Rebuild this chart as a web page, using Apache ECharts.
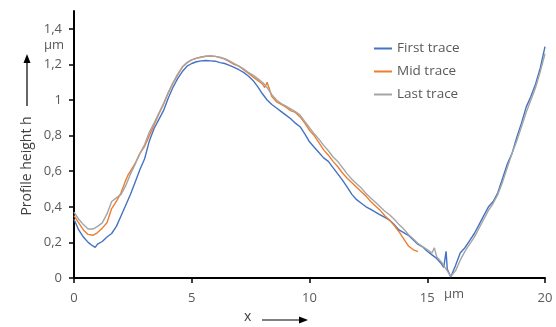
<!DOCTYPE html>
<html>
<head>
<meta charset="utf-8">
<script src="https://cdn.jsdelivr.net/npm/echarts@6/dist/echarts.min.js"></script>
<style>
  html, body { margin: 0; padding: 0; background: #fff; }
  #chart { width: 556px; height: 327px; }
</style>
</head>
<body>
<div id="chart"></div>
<script>
// profile traces, [x in um, h in um]
const firstTrace = [
  [0, 0.33], [0.2, 0.27], [0.4, 0.23], [0.6, 0.2], [0.8, 0.18], [0.9, 0.172], [1.0, 0.19], [1.2, 0.205],
  [1.4, 0.23], [1.6, 0.25], [1.8, 0.29], [2.0, 0.35], [2.2, 0.41], [2.4, 0.47], [2.6, 0.54], [2.8, 0.61],
  [3.0, 0.67], [3.2, 0.77], [3.4, 0.84], [3.6, 0.89], [3.8, 0.94], [4.0, 1.01], [4.2, 1.07], [4.4, 1.12],
  [4.6, 1.16], [4.8, 1.19], [5.0, 1.205], [5.2, 1.215], [5.4, 1.22], [5.6, 1.222], [5.8, 1.22], [6.0, 1.218],
  [6.2, 1.21], [6.4, 1.205], [6.6, 1.195], [6.8, 1.183], [7.0, 1.17], [7.2, 1.155], [7.4, 1.135], [7.6, 1.11],
  [7.8, 1.075], [8.0, 1.035], [8.2, 1.0], [8.4, 0.975], [8.6, 0.955], [8.8, 0.935], [9.0, 0.915], [9.2, 0.895],
  [9.4, 0.87], [9.6, 0.85], [9.8, 0.81], [10.0, 0.765], [10.2, 0.735], [10.4, 0.705], [10.6, 0.675], [10.8, 0.655],
  [11.0, 0.62], [11.2, 0.585], [11.4, 0.55], [11.6, 0.51], [11.8, 0.47], [12.0, 0.44], [12.2, 0.42], [12.4, 0.4],
  [12.6, 0.385], [12.8, 0.37], [13.0, 0.355], [13.2, 0.34], [13.4, 0.325], [13.6, 0.3], [13.8, 0.27], [14.0, 0.255],
  [14.2, 0.24], [14.4, 0.215], [14.6, 0.19], [14.8, 0.175], [15.0, 0.15], [15.2, 0.13], [15.4, 0.11], [15.6, 0.08],
  [15.7, 0.06], [15.8, 0.15], [15.85, 0.05], [16.0, 0.005], [16.2, 0.07], [16.4, 0.14], [16.6, 0.17], [16.8, 0.21],
  [17.0, 0.25], [17.2, 0.3], [17.4, 0.35], [17.6, 0.4], [17.8, 0.43], [18.0, 0.48], [18.2, 0.56], [18.4, 0.64],
  [18.6, 0.7], [18.8, 0.79], [19.0, 0.87], [19.2, 0.96], [19.4, 1.02], [19.6, 1.09], [19.8, 1.18], [20.0, 1.3]
];
const midTrace = [
  [0, 0.35], [0.2, 0.31], [0.4, 0.27], [0.6, 0.245], [0.8, 0.24], [1.0, 0.255], [1.2, 0.28], [1.4, 0.31],
  [1.6, 0.39], [1.8, 0.43], [2.0, 0.48], [2.2, 0.55], [2.3, 0.58], [2.4, 0.6], [2.6, 0.645], [2.8, 0.7],
  [3.0, 0.74], [3.2, 0.8], [3.4, 0.86], [3.6, 0.92], [3.8, 0.975], [4.0, 1.04], [4.2, 1.095], [4.4, 1.14],
  [4.6, 1.185], [4.8, 1.21], [5.0, 1.225], [5.2, 1.235], [5.4, 1.242], [5.6, 1.246], [5.8, 1.247], [6.0, 1.245],
  [6.2, 1.238], [6.4, 1.23], [6.6, 1.215], [6.8, 1.2], [7.0, 1.19], [7.2, 1.17], [7.4, 1.15], [7.6, 1.13],
  [7.8, 1.11], [8.0, 1.09], [8.1, 1.07], [8.2, 1.1], [8.3, 1.06], [8.4, 1.02], [8.6, 0.99], [8.8, 0.975],
  [9.0, 0.96], [9.2, 0.94], [9.4, 0.93], [9.6, 0.905], [9.8, 0.87], [10.0, 0.83], [10.2, 0.8], [10.4, 0.76],
  [10.6, 0.72], [10.8, 0.69], [11.0, 0.655], [11.2, 0.625], [11.4, 0.59], [11.6, 0.56], [11.8, 0.535], [12.0, 0.51],
  [12.2, 0.485], [12.4, 0.46], [12.6, 0.43], [12.8, 0.405], [13.0, 0.38], [13.2, 0.35], [13.4, 0.325], [13.6, 0.295],
  [13.8, 0.26], [14.0, 0.22], [14.2, 0.18], [14.4, 0.16], [14.6, 0.148]
];
const lastTrace = [
  [0, 0.37], [0.2, 0.33], [0.4, 0.3], [0.6, 0.275], [0.8, 0.275], [1.0, 0.29], [1.2, 0.31], [1.4, 0.36],
  [1.6, 0.43], [1.8, 0.45], [2.0, 0.47], [2.2, 0.52], [2.4, 0.585], [2.6, 0.64], [2.8, 0.7], [3.0, 0.75],
  [3.2, 0.82], [3.4, 0.87], [3.6, 0.925], [3.8, 0.98], [4.0, 1.04], [4.2, 1.095], [4.4, 1.145], [4.6, 1.185],
  [4.8, 1.21], [5.0, 1.225], [5.2, 1.234], [5.4, 1.24], [5.6, 1.246], [5.8, 1.248], [6.0, 1.245], [6.2, 1.24],
  [6.4, 1.232], [6.6, 1.22], [6.8, 1.205], [7.0, 1.19], [7.2, 1.175], [7.4, 1.155], [7.6, 1.14], [7.8, 1.12],
  [8.0, 1.1], [8.2, 1.07], [8.4, 1.03], [8.6, 1.0], [8.8, 0.98], [9.0, 0.965], [9.2, 0.95], [9.4, 0.935],
  [9.6, 0.915], [9.8, 0.88], [10.0, 0.845], [10.2, 0.81], [10.4, 0.78], [10.6, 0.745], [10.8, 0.715], [11.0, 0.68],
  [11.2, 0.655], [11.4, 0.62], [11.6, 0.585], [11.8, 0.555], [12.0, 0.53], [12.2, 0.505], [12.4, 0.475], [12.6, 0.45],
  [12.8, 0.425], [13.0, 0.4], [13.2, 0.375], [13.4, 0.355], [13.6, 0.33], [13.8, 0.3], [14.0, 0.275], [14.2, 0.245],
  [14.4, 0.22], [14.6, 0.195], [14.8, 0.176], [15.0, 0.16], [15.2, 0.14], [15.3, 0.17], [15.4, 0.12], [15.6, 0.09],
  [15.8, 0.05], [16.0, 0.01], [16.2, 0.04], [16.4, 0.1], [16.6, 0.15], [16.8, 0.19], [17.0, 0.23], [17.2, 0.28],
  [17.4, 0.33], [17.6, 0.38], [17.8, 0.42], [18.0, 0.47], [18.2, 0.54], [18.4, 0.62], [18.6, 0.7], [18.8, 0.77],
  [19.0, 0.85], [19.2, 0.93], [19.4, 1.0], [19.6, 1.07], [19.8, 1.16], [20.0, 1.26]
];
const seriesNames = ['First trace', 'Mid trace', 'Last trace'];
const seriesColors = ['#4472C4', '#ED7D31', '#A5A5A5'];
const xTicks = [0, 5, 10, 15, 20];
const yTicks = [0, 0.2, 0.4, 0.6, 0.8, 1, 1.2, 1.4];

const font = '"Open Sans", sans-serif';
const textColor = '#595959';

const myChart = echarts.init(document.getElementById('chart'));
const traces = [firstTrace, midTrace, lastTrace];

const options = {
  animation: false,
  grid: { left: 74, right: 11, top: 11, bottom: 49 },
  legend: {
    orient: 'vertical',
    left: 369,
    top: 34,
    icon: 'rect',
    itemWidth: 18,
    itemHeight: 2,
    itemGap: 4,
    textStyle: { color: textColor, fontSize: 13.5, fontFamily: font, lineHeight: 19 },
    data: seriesNames,
  },
  xAxis: {
    type: 'value',
    min: 0,
    max: 20,
    interval: 5,
    axisLine: { lineStyle: { color: '#000', width: 2 } },
    axisTick: { show: true, length: 5, lineStyle: { color: '#000', width: 1.5 }, customValues: xTicks },
    axisLabel: { color: textColor, fontSize: 13, fontFamily: font, margin: 14, customValues: xTicks },
    splitLine: { show: false },
  },
  yAxis: {
    type: 'value',
    min: 0,
    max: 1.5,
    axisLine: { show: true, lineStyle: { color: '#000', width: 2 } },
    axisTick: { show: true, length: 5, lineStyle: { color: '#000', width: 1.5 }, customValues: yTicks },
    axisLabel: {
      color: textColor,
      fontSize: 13,
      fontFamily: font,
      margin: 12,
      customValues: yTicks,
      formatter: (v) => String(v).replace('.', ','),
    },
    splitLine: { show: false },
  },
  graphic: [
    { type: 'text', left: 44, top: 39, style: { text: 'µm', fill: textColor, fontSize: 13, fontFamily: font } },
    { type: 'text', left: 444, top: 288, style: { text: 'µm', fill: textColor, fontSize: 13, fontFamily: font } },
    {
      type: 'text', x: 27, y: 166, rotation: Math.PI / 2,
      style: { text: 'Profile height h', fill: '#404040', fontSize: 14, fontFamily: font, align: 'center', verticalAlign: 'middle' },
    },
    { type: 'line', shape: { x1: 27, y1: 106, x2: 27, y2: 60 }, style: { stroke: '#000', lineWidth: 1.2 } },
    { type: 'polygon', shape: { points: [[27, 54], [23.5, 63], [30.5, 63]] }, style: { fill: '#000' } },
    { type: 'text', left: 244, top: 310, style: { text: 'x', fill: '#404040', fontSize: 14, fontFamily: font } },
    { type: 'line', shape: { x1: 262, y1: 320, x2: 302, y2: 320 }, style: { stroke: '#000', lineWidth: 1.2 } },
    { type: 'polygon', shape: { points: [[308, 320], [299, 316.5], [299, 323.5]] }, style: { fill: '#000' } },
  ],
  series: traces.map((d, i) => ({
    name: seriesNames[i],
    type: 'line',
    data: d,
    symbol: 'none',
    lineStyle: { color: seriesColors[i], width: 1.4 },
    itemStyle: { color: seriesColors[i] },
  })),
};
myChart.setOption(options);
</script>
</body>
</html>
